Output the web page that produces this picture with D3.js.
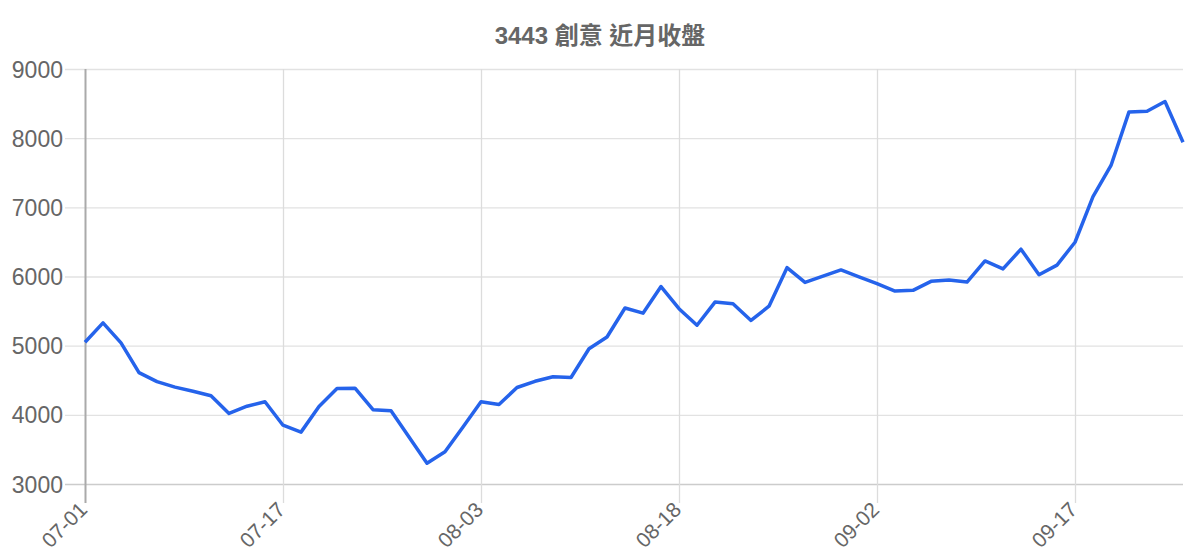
<!DOCTYPE html>
<html>
<head>
<meta charset="utf-8">
<script src="https://cdn.jsdelivr.net/npm/d3@7"></script>
<style>
  body { margin: 0; background: #fff; }
  text { font-family: "Liberation Sans", Arial, "Noto Sans CJK TC", sans-serif; }
</style>
</head>
<body>
<script>
// closing prices, one per trading day
let closes = [5050, 5330, 5040, 4610, 4480, 4400, 4340, 4275, 4020, 4125, 4190,
  3850, 3750, 4120, 4380, 4385, 4075, 4058, 3680, 3300, 3465, 3825,
  4190, 4150, 4395, 4485, 4550, 4540, 4955, 5125, 5545, 5470, 5855,
  5535, 5295, 5630, 5605, 5365, 5570, 6128, 5915, 6005, 6095, 5995,
  5898, 5790, 5800, 5930, 5950, 5920, 6225, 6110, 6395, 6025, 6165,
  6495, 7155, 7605, 8380, 8390, 8530, 7940];

let tickLabels = ["07-01", "07-17", "08-03", "08-18", "09-02", "09-17"];
let tickEvery = 11;
let yTicks = [3000, 4000, 5000, 6000, 7000, 8000, 9000];

let width = 1200, height = 560;
let margin = { top: 69, right: 17, bottom: 76, left: 85 };
let plotH = height - margin.top - margin.bottom;

let svg = d3.select("body").append("svg")
    .attr("width", width)
    .attr("height", height);

let x = d3.scaleLinear()
    .domain([0, closes.length - 1])
    .range([margin.left, width - margin.right]);

let y = d3.scaleLinear()
    .domain([3000, 9000])
    .range([height - margin.bottom, margin.top]);

// title
svg.append("text")
    .attr("x", 600)
    .attr("y", 44)
    .attr("text-anchor", "middle")
    .attr("font-size", 24)
    .attr("font-weight", "bold")
    .attr("fill", "#666")
    .text("3443 創意 近月收盤");

// horizontal grid + y labels
let yAxis = svg.append("g")
    .attr("transform", "translate(" + margin.left + ",0)")
    .call(d3.axisLeft(y).tickValues(yTicks)
        .tickSize(-(width - margin.left - margin.right))
        .tickPadding(22)
        .tickFormat(d3.format("d")));
yAxis.select(".domain").remove();
yAxis.selectAll(".tick line")
    .attr("x1", -20)
    .attr("stroke", function (d) { return d === 3000 ? "#ccc" : "#e2e2e2"; })
    .attr("stroke-width", 1.3);
yAxis.selectAll(".tick text")
    .attr("font-size", 23)
    .attr("fill", "#666")
    .attr("dy", "0.35em");

// vertical grid + x labels
let xTickValues = tickLabels.map(function (d, i) { return i * tickEvery; });
let xAxis = svg.append("g")
    .attr("transform", "translate(0," + (height - margin.bottom) + ")")
    .call(d3.axisBottom(x).tickValues(xTickValues)
        .tickFormat(function (d, i) { return tickLabels[i]; }));
xAxis.select(".domain").remove();
xAxis.selectAll(".tick line")
    .attr("y1", -plotH)
    .attr("y2", 19)
    .attr("stroke", function (d) { return d === 0 ? "#aaa" : "#dcdcdc"; })
    .attr("stroke-width", function (d) { return d === 0 ? 2 : 1.3; });
xAxis.selectAll(".tick text")
    .attr("font-size", 21)
    .attr("fill", "#666")
    .attr("text-anchor", "end")
    .attr("y", 0)
    .attr("dy", 0)
    .attr("transform", "translate(3,27) rotate(-45)");

// price line
let line = d3.line()
    .x(function (d, i) { return x(i); })
    .y(function (d) { return y(d); });

svg.append("path")
    .datum(closes)
    .attr("fill", "none")
    .attr("stroke", "#2563eb")
    .attr("stroke-width", 3.5)
    .attr("stroke-linejoin", "round")
    .attr("d", line);
</script>
</body>
</html>
